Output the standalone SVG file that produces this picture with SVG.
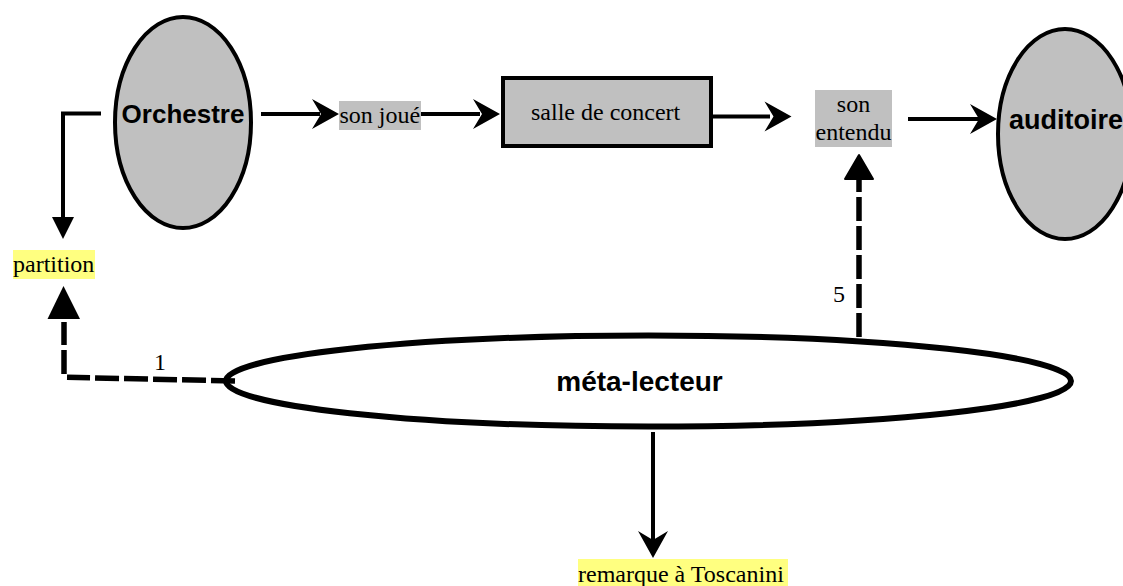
<svg xmlns="http://www.w3.org/2000/svg" width="1123" height="586" viewBox="0 0 1123 586">
<style>
.n{fill:#c0c0c0;stroke:#000;stroke-width:4}
.l{fill:none;stroke:#000;stroke-width:4}
.d{fill:none;stroke:#000;stroke-width:5.500;stroke-dasharray:24 5}
.s{font-family:"Liberation Serif","Times New Roman",serif;font-size:24px;fill:#000}
.b{font-family:"Liberation Sans",Arial,sans-serif;font-size:26px;font-weight:bold;fill:#000}
.g{fill:#c0c0c0}.y{fill:#ffff80}
</style>
<defs>
<path id="v" d="M0 0L-27 -15L-18 0L-27 15Z" fill="#000"/>
</defs>
<rect width="1123" height="586" fill="#fff"/>
<g id="orchestre"><ellipse class="n" cx="183" cy="122.500" rx="68" ry="105.500"/><text class="b" x="183" y="123" text-anchor="middle">Orchestre</text></g>
<g id="son-joue"><rect class="g" x="339" y="101" width="82" height="29"/><text class="s" x="339.500" y="123">son joué</text></g>
<g id="salle"><rect class="n" x="503" y="78" width="208" height="68"/><text class="s" x="531" y="120">salle de concert</text></g>
<g id="son-entendu"><rect class="g" x="815" y="90" width="77" height="57"/><text class="s" x="853.500" y="112" text-anchor="middle">son</text><text class="s" x="853.500" y="140" text-anchor="middle">entendu</text></g>
<g id="auditoire"><ellipse class="n" cx="1065" cy="134" rx="67" ry="105"/><text x="1009" y="129" font-family="'Liberation Sans',Arial,sans-serif" font-size="27" font-weight="bold">auditoire</text></g>
<g id="partition"><rect class="y" x="13" y="250" width="82" height="29"/><text class="s" x="13" y="272">partition</text></g>
<g id="meta-lecteur"><ellipse cx="648.500" cy="381" rx="422.500" ry="45.500" fill="#fff" stroke="#000" stroke-width="6"/><text x="639.500" y="391" text-anchor="middle" font-family="'Liberation Sans',Arial,sans-serif" font-size="28" font-weight="bold">méta-lecteur</text></g>
<g id="remarque"><rect class="y" x="578" y="559" width="210" height="27"/><text class="s" x="578" y="582">remarque à Toscanini</text></g>
<text class="s" x="154" y="370">1</text>
<text class="s" x="833" y="302">5</text>
<g id="connectors">
<path class="l" d="M101 113.500H63V220"/>
<path d="M52 217H74L63 239Z" fill="#000"/>
<path class="l" d="M261 114H320"/><use href="#v" x="339" y="114"/>
<path class="l" d="M421 114H480"/><use href="#v" x="500" y="114"/>
<path class="l" d="M712 116.500H770"/><use href="#v" x="791.500" y="116.500"/>
<path class="l" d="M908 119H980"/><use href="#v" x="997" y="119"/>
<path class="l" d="M653 432V545"/><use href="#v" transform="translate(653 558) rotate(90)"/>
<path class="d" d="M235 381L67 377.300"/>
<path class="d" d="M64 374V322"/>
<path d="M47.500 319H80L63.500 286Z" fill="#000"/>
<path class="d" d="M859 337V180"/>
<path d="M845 179H873L859 155Z" fill="#000" stroke="#000" stroke-width="2" stroke-linejoin="round"/>
</g>
</svg>
